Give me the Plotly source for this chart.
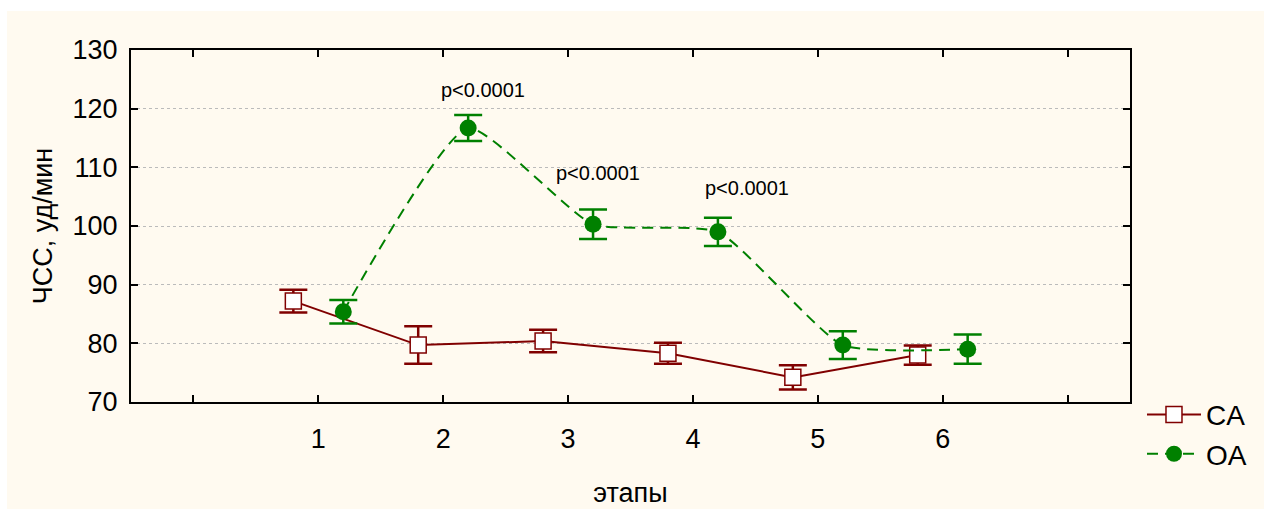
import plotly.graph_objects as go

# Stages and heart-rate means (bpm) with error half-widths
stages = [1, 2, 3, 4, 5, 6]
ca_mean = [87.2, 79.7, 80.4, 78.3, 74.2, 78.0]
ca_err = [1.95, 3.2, 1.9, 1.8, 2.05, 1.65]
oa_mean = [85.4, 116.7, 100.3, 99.0, 79.7, 79.0]
oa_err = [2.0, 2.2, 2.5, 2.4, 2.35, 2.5]

# significance labels: stage, y position, text
p_stage = [2.32, 3.24, 4.43]
p_y = [123.2, 109.0, 106.4]
p_text = ["p<0.0001", "p<0.0001", "p<0.0001"]

offset = 0.2
RED = "#800000"
GREEN = "#008000"
FONT = "Liberation Sans, Arial, sans-serif"

fig = go.Figure()

fig.add_trace(go.Scatter(
    x=[s - offset for s in stages], y=ca_mean, name="CA",
    mode="lines+markers",
    line=dict(color=RED, width=2),
    marker=dict(symbol="square", size=16, color="white",
                line=dict(color=RED, width=1.5)),
    error_y=dict(type="data", array=ca_err, visible=True,
                 color=RED, thickness=2.5, width=14),
))

fig.add_trace(go.Scatter(
    x=[s + offset for s in stages], y=oa_mean, name="OA",
    mode="lines+markers",
    line=dict(color=GREEN, width=2, dash="11px,7px", shape="spline", smoothing=0.5),
    marker=dict(symbol="circle", size=17, color=GREEN),
    error_y=dict(type="data", array=oa_err, visible=True,
                 color=GREEN, thickness=2.5, width=14),
))

for sx, sy, txt in zip(p_stage, p_y, p_text):
    fig.add_annotation(x=sx, y=sy, text=txt, showarrow=False,
                       font=dict(family=FONT, size=20, color="black"))

# cream panel behind the plot area
fig.add_shape(type="rect", xref="paper", yref="paper",
              x0=-0.1241, x1=1.14, y0=-0.31, y1=1.1108,
              fillcolor="#FFFAF0", line=dict(width=0), layer="below")

fig.update_layout(
    width=1264, height=509,
    margin=dict(l=131, r=134, t=50, b=107, autoexpand=False),
    paper_bgcolor="white",
    plot_bgcolor="white",
    font=dict(family=FONT, size=27, color="black"),
    legend=dict(x=1.012, y=0.035, xanchor="left", yanchor="top",
                bgcolor="rgba(0,0,0,0)", font=dict(size=28),
                tracegroupgap=0, itemwidth=54),
    showlegend=True,
)

fig.update_xaxes(
    range=[-0.5, 7.5],
    tickvals=[0, 1, 2, 3, 4, 5, 6, 7],
    ticktext=["", "1", "2", "3", "4", "5", "6", ""],
    ticks="inside", ticklen=7, tickwidth=2, tickcolor="black",
    ticklabelstandoff=12,
    showline=True, linecolor="black", linewidth=2, mirror="ticks",
    showgrid=False, zeroline=False, automargin=False,
    tickfont=dict(size=27),
    title=dict(text="этапы", font=dict(size=27), standoff=30),
)

fig.update_yaxes(
    range=[70, 130],
    tickvals=[70, 80, 90, 100, 110, 120, 130],
    ticks="inside", ticklen=7, tickwidth=2, tickcolor="black",
    ticklabelstandoff=6,
    showline=True, linecolor="black", linewidth=2, mirror="ticks",
    showgrid=True, gridcolor="#BBBBBB", griddash="dot", gridwidth=1,
    zeroline=False, automargin=False,
    tickfont=dict(size=27),
    title=dict(text="ЧСС, уд/мин", font=dict(size=27), standoff=12),
)

fig.write_html("out.html")
